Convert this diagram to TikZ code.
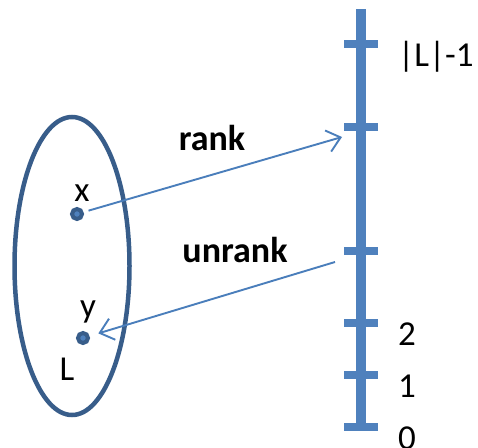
\documentclass[tikz,border=0pt]{standalone}
\usepackage{fontspec}
\setmainfont{Carlito}
\usetikzlibrary{shapes.geometric, arrows.meta, positioning}
\definecolor{setblue}{HTML}{385D8A}
\definecolor{axisblue}{HTML}{4F81BD}
\definecolor{arrowblue}{HTML}{4A7EBB}
\tikzstyle{setline} = [ellipse, draw=setblue, line width=4.5pt, minimum width=115pt, minimum height=298pt, inner sep=0pt]
\tikzstyle{elem} = [circle, draw=setblue, fill=axisblue, line width=4pt, minimum size=10pt, inner sep=0pt]
\tikzstyle{axis} = [draw=axisblue, line width=10pt]
\tikzstyle{tickmark} = [draw=axisblue, line width=8pt]
\tikzstyle{lbl} = [font=\fontsize{35}{42}\selectfont, inner sep=0pt]
\tikzstyle{maplabel} = [font=\fontsize{36}{43}\selectfont\bfseries, inner sep=0pt]
\tikzstyle{arrow} = [draw=arrowblue, line width=1.9pt, -{Straight Barb[length=13pt,width=22pt,line width=1.9pt]}]

\begin{document}
\begin{tikzpicture}[x=1pt,y=-1pt]
\useasboundingbox (0,0) rectangle (478,447);

% the set L
\node (set) [setline] at (72,266) {};
\node (x) [elem] at (77,214) {};
\node (y) [elem] at (83,338) {};
\node (xlabel) [lbl, anchor=base] at (82,201) {x};
\node (ylabel) [lbl, anchor=base] at (88,317) {y};
\node (Llabel) [lbl, anchor=base] at (67,380) {L};

% the number line
\coordinate (bottom) at (361,430);
\coordinate (top) at (361,9);
\draw [axis] (bottom) -- (top);
\foreach \tname/\ypos in {t0/427, t1/375, t2/323, tu/251, tr/127, tl/44}
  \draw [tickmark] (344,\ypos) -- (378,\ypos) coordinate (\tname);
\node (last) [lbl, anchor=base west] at (398,66) {|L|-1};
\node (two) [lbl, anchor=base west] at (398,345) {2};
\node (one) [lbl, anchor=base west] at (398,397) {1};
\node (zero) [lbl, anchor=base west] at (398,449) {0};

% rank / unrank
\coordinate (rankend) at (342,137);
\coordinate (unrankstart) at (335,262);
\node (rank) [maplabel, anchor=base] at (212,150) {rank};
\node (unrank) [maplabel, anchor=base] at (235,262) {unrank};
\draw [arrow, shorten <=5pt] (x) -- (rankend);
\draw [arrow, shorten >=9pt] (unrankstart) -- (y);
\end{tikzpicture}
\end{document}
